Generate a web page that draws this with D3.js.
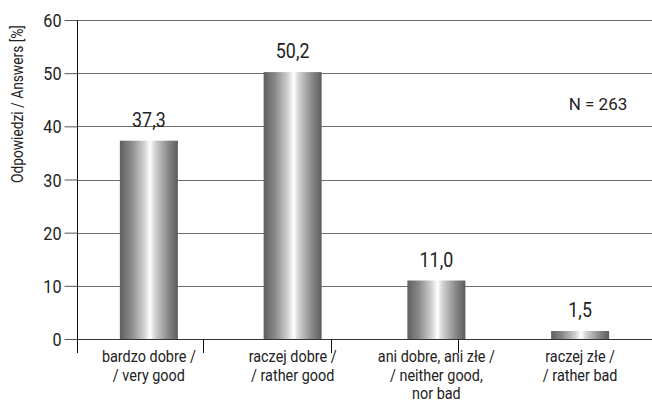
<!DOCTYPE html>
<html>
<head>
<meta charset="utf-8">
<script src="https://cdn.jsdelivr.net/npm/d3@7"></script>
<style>
  html, body { margin: 0; padding: 0; background: #fff; }
  svg { display: block; }
  text { font-family: Roboto, "Liberation Sans", sans-serif; fill: #222; }
</style>
</head>
<body>
<svg id="chart" width="652" height="403"></svg>
<script>
// Survey answers (percent of respondents)
const categories = [
  ["bardzo dobre /", "/ very good"],
  ["raczej dobre /", "/ rather good"],
  ["ani dobre, ani złe /", "/ neither good,", "nor bad"],
  ["raczej złe /", "/ rather bad"]
];
const values = [37.3, 50.2, 11.0, 1.5];
const valueLabels = ["37,3", "50,2", "11,0", "1,5"];
const yTicks = [0, 10, 20, 30, 40, 50, 60];
const yTitle = "Odpowiedzi / Answers [%]";
const noteText = "N = 263";

const svg = d3.select("#chart");
const W = 652, H = 403;
const plotLeft = 77, plotTop = 20, plotBottom = 339;
const SX = 0.85; // horizontal squeeze for a condensed look

const xBand = d3.scaleBand().domain(d3.range(categories.length)).range([plotLeft, W]);
// separator ticks below the baseline
const xSep = d3.scaleLinear().domain([0, 3]).range([plotLeft - 1, 458]);
const y = d3.scaleLinear().domain([0, 60]).range([plotBottom, plotTop]);

// condensed text placed at (x, y)
function label(g, x, yy, size, sx) {
  return g.append("text")
    .attr("transform", `translate(${x},${yy}) scale(${sx || SX},1)`)
    .attr("text-anchor", "middle")
    .attr("font-size", size);
}

// bar shading
const defs = svg.append("defs");
const grad = defs.append("linearGradient").attr("id", "barGrad").attr("x1", 0).attr("x2", 1).attr("y1", 0).attr("y2", 0);
[[0, "#5f5f5f"], [0.2, "#8a8a8a"], [0.42, "#d2d2d2"], [0.52, "#ffffff"], [0.6, "#d4d4d4"], [0.82, "#8c8c8c"], [1, "#5c5c5c"]]
  .forEach(([o, c]) => grad.append("stop").attr("offset", o).attr("stop-color", c));

// horizontal grid lines
svg.append("g").selectAll("line").data(yTicks).join("line")
  .attr("x1", plotLeft).attr("x2", W)
  .attr("y1", d => Math.round(y(d)) + 0.5).attr("y2", d => Math.round(y(d)) + 0.5)
  .attr("stroke", d => d === 0 ? "#333" : "#6e6e6e").attr("stroke-width", 1);

// y axis
const yAxis = d3.axisLeft(y).tickValues(yTicks).tickSize(13).tickPadding(3).tickFormat(d3.format("d"));
const gy = svg.append("g").attr("transform", `translate(${plotLeft + 0.5},0)`).call(yAxis);
gy.select(".domain").remove();
gy.selectAll(".tick line").attr("stroke", "#555");
gy.selectAll(".tick text")
  .attr("font-size", 19).attr("fill", "#222")
  .attr("font-family", 'Roboto, "Liberation Sans", sans-serif')
  .attr("x", null).attr("dy", "0.35em")
  .attr("transform", `translate(-16,0) scale(${SX},1)`);
svg.append("line").attr("x1", plotLeft + 0.5).attr("x2", plotLeft + 0.5).attr("y1", plotTop).attr("y2", 353)
  .attr("stroke", "#111").attr("stroke-width", 1);

// separator ticks under the baseline
svg.append("g").selectAll("line").data(d3.range(1, 4)).join("line")
  .attr("x1", d => Math.round(xSep(d)) + 0.5).attr("x2", d => Math.round(xSep(d)) + 0.5)
  .attr("y1", plotBottom).attr("y2", 353).attr("stroke", "#111");

// bars
svg.append("g").selectAll("rect").data(values).join("rect")
  .attr("x", (d, i) => xBand(i) + xBand.bandwidth() / 2 - 29)
  .attr("width", 58)
  .attr("y", d => y(d))
  .attr("height", d => y(0) - y(d))
  .attr("fill", "url(#barGrad)");

// value labels
const gv = svg.append("g");
values.forEach((v, i) => {
  label(gv, xBand(i) + xBand.bandwidth() / 2, y(v) - 14, 21).text(valueLabels[i]);
});

// category labels, one text per line
const gc = svg.append("g");
categories.forEach((lines, i) => {
  lines.forEach((ln, j) => {
    label(gc, xBand(i) + xBand.bandwidth() / 2, 362 + j * 18.6, 16, 0.9).text(ln);
  });
});

// y axis title
svg.append("text")
  .attr("transform", `translate(23,${104}) rotate(-90) scale(${SX},1)`)
  .attr("text-anchor", "middle").attr("font-size", 16.2)
  .text(yTitle);

// sample size note
svg.append("text").attr("x", 598).attr("y", 110).attr("text-anchor", "middle").attr("font-size", 17)
  .text(noteText);
</script>
</body>
</html>
